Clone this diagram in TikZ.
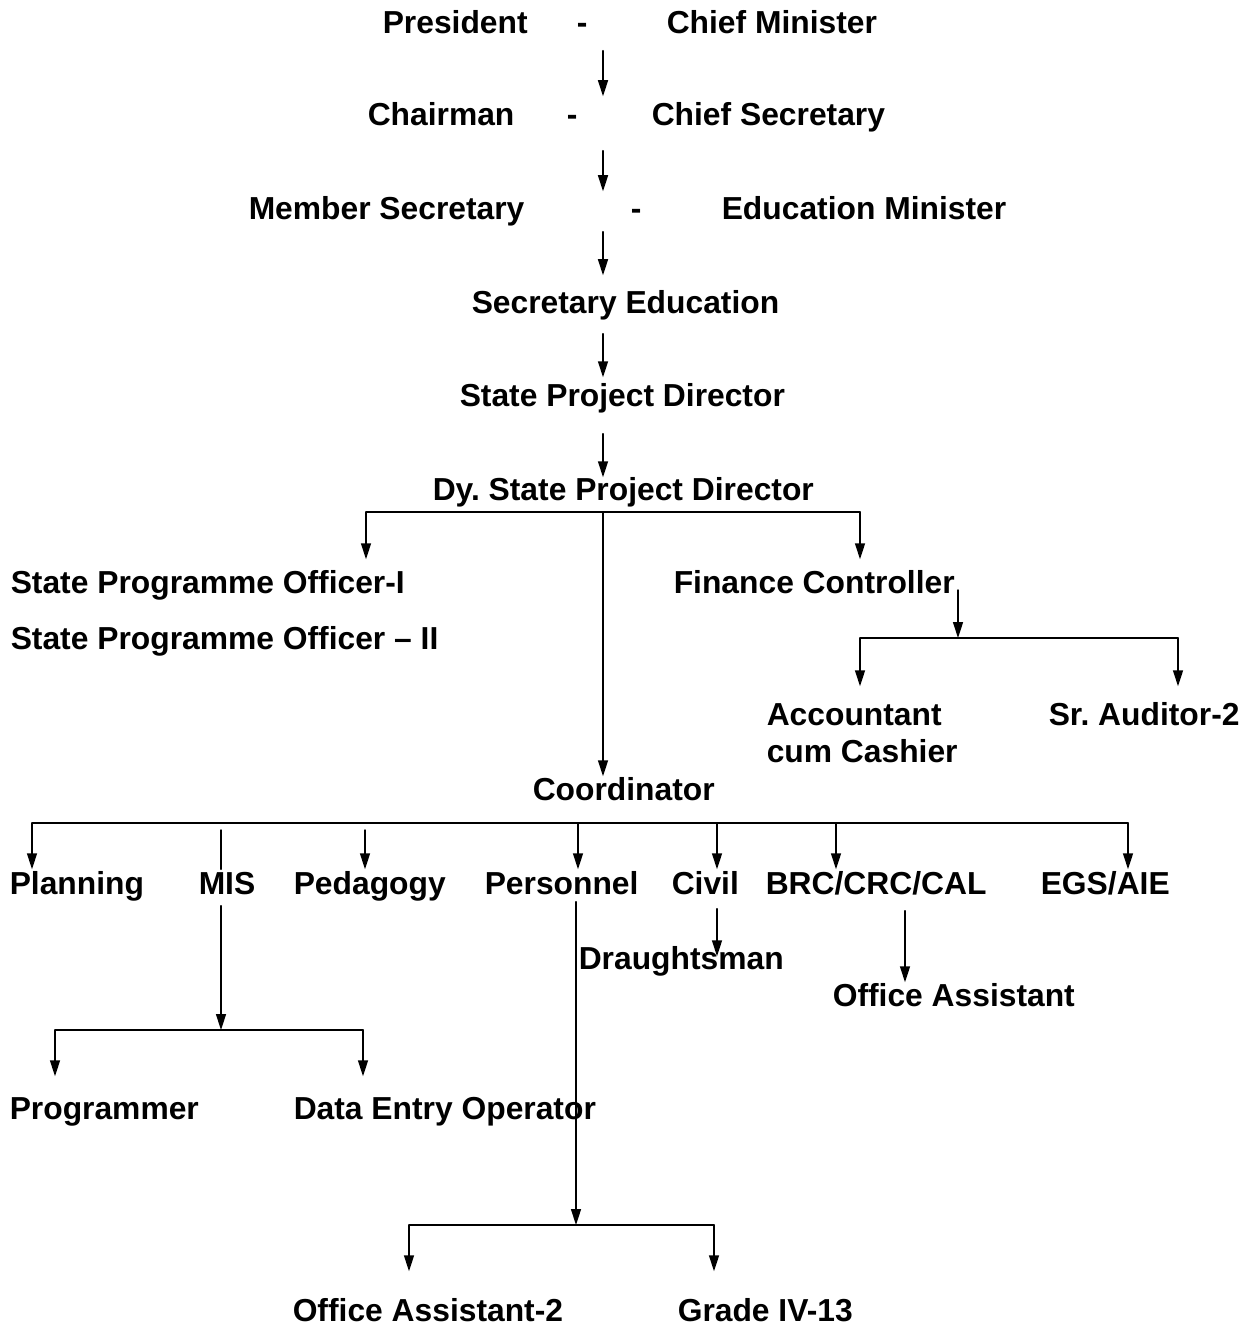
\documentclass[tikz,border=0pt]{standalone}
\usepackage{fontspec}
\setmainfont{Liberation Sans}
\usetikzlibrary{arrows.meta}
\frenchspacing

\begin{document}
\begin{tikzpicture}[x=1pt,y=-1pt,line width=1.5pt,line cap=round,
 >={Triangle[width=10pt,length=16pt]},
 post/.style={anchor=base west,inner sep=0pt,text height=28pt,text depth=7pt,
  font=\fontsize{31.8}{38}\selectfont\bfseries}]
 \useasboundingbox (0,0) rectangle (1252,1329);
 % chain of command
 \node[post] (pres) at (382,34) {President};
 \node[post] (dsh1) at (576,34) {-};
 \node[post] (cmin) at (666,34) {Chief Minister};
 \node[post] (chair) at (367,126) {Chairman};
 \node[post] (dsh2) at (566,126) {-};
 \node[post] (csec) at (651,126) {Chief Secretary};
 \node[post] (msec) at (248,220) {Member Secretary};
 \node[post] (dsh3) at (630,220) {-};
 \node[post] (emin) at (721,220) {Education Minister};
 \node[post] (seced) at (471,313) {Secretary Education};
 \node[post] (spd) at (459,406) {State Project Director};
 \node[post] (dspd) at (432,500) {Dy. State Project Director};
 \coordinate (spine) at (603,0);
 \draw[->,shorten <=9pt,shorten >=1pt] (spine |- pres.south) -- (spine |- chair.north);
 \draw[->,shorten <=17pt] (spine |- chair.south) -- (spine |- msec.north);
 \draw[->,shorten <=4pt,shorten >=9pt] (spine |- msec.south) -- (spine |- seced.north);
 \draw[->,shorten <=13pt] (spine |- seced.south) -- (spine |- spd.north);
 \draw[->,shorten <=20pt,shorten >=-6pt] (spine |- spd.south) -- (spine |- dspd.north);
 % officers under the deputy
 \node[post] (spo1) at (10,593) {State Programme Officer-I};
 \node[post] (spo2) at (10,649) {State Programme Officer -- II};
 \node[post] (fcon) at (673,593) {Finance Controller};
 \node[post] (acc) at (766,725) {Accountant};
 \node[post] (cash) at (766,762) {cum Cashier};
 \node[post] (saud) at (1048,725) {Sr. Auditor-2};
 \node[post] (coord) at (532,800) {Coordinator};
 \coordinate (dL) at (366,512);
 \coordinate (dM) at (603,512);
 \coordinate (dR) at (860,512);
 \draw (dL) -- (dR);
 \draw[->,shorten >=5pt] (dL) -- (dL |- spo1.north);
 \draw[->,shorten >=5pt] (dR) -- (dR |- fcon.north);
 \draw[->,shorten >=-5pt] (dM) -- (dM |- coord.north);
 \coordinate (fJ) at (958,638);
 \coordinate (fL) at (860,638);
 \coordinate (fR) at (1178,638);
 \draw[->] (fJ |- fcon.base) ++(0,-3) -- (fJ);
 \draw (fL) -- (fR);
 \draw[->,shorten >=10pt] (fL) -- (fL |- acc.north);
 \draw[->,shorten >=10pt] (fR) -- (fR |- saud.north);
 % sections under the coordinator
 \node[post] (plan) at (9,894) {Planning};
 \node[post] (mis) at (198,894) {MIS};
 \node[post] (peda) at (293,894) {Pedagogy};
 \node[post] (pers) at (484,894) {Personnel};
 \node[post] (civ) at (671,894) {Civil};
 \node[post] (brc) at (765,894) {BRC/CRC/CAL};
 \node[post] (egs) at (1040,894) {EGS/AIE};
 \draw (32,823) -- (1128,823);
 \foreach \x/\n in {32/plan,578/pers,717/civ,836/brc,1128/egs}{
  \coordinate (k\n) at (\x,823);
  \draw[->,shorten >=-4pt] (k\n) -- (k\n |- \n.north);
 }
 \coordinate (kmis) at (221,830);
 \coordinate (kpeda) at (365,830);
 \draw[shorten >=-4pt] (kmis) -- (kmis |- mis.north);
 \draw[->,shorten >=-4pt] (kpeda) -- (kpeda |- peda.north);
 % lower staff
 \node[post] (drau) at (578,969) {Draughtsman};
 \node[post] (offa) at (832,1006) {Office Assistant};
 \node[post] (prog) at (9,1119) {Programmer};
 \node[post] (deo) at (293,1119) {Data Entry Operator};
 \node[post] (offa2) at (292,1321) {Office Assistant-2};
 \node[post] (grd) at (677,1321) {Grade IV-13};
 \coordinate (cv) at (717,0);
 \draw[->,shorten <=7pt,shorten >=-16pt] (cv |- civ.south) -- (cv |- drau.north);
 \coordinate (bc) at (905,0);
 \draw[->,shorten <=9pt,shorten >=-5pt] (bc |- brc.south) -- (bc |- offa.north);
 \coordinate (mJ) at (221,1030);
 \coordinate (mL) at (55,1030);
 \coordinate (mR) at (363,1030);
 \draw[->,shorten <=4pt] (mJ |- mis.south) -- (mJ);
 \draw (mL) -- (mR);
 \draw[->,shorten >=14pt] (mL) -- (mL |- prog.north);
 \draw[->,shorten >=14pt] (mR) -- (mR |- deo.north);
 \coordinate (pJ) at (576,1225);
 \coordinate (pL) at (409,1225);
 \coordinate (pR) at (714,1225);
 \draw[->] (pJ |- pers.south) -- (pJ);
 \draw (pL) -- (pR);
 \draw[->,shorten >=21pt] (pL) -- (pL |- offa2.north);
 \draw[->,shorten >=21pt] (pR) -- (pR |- grd.north);
\end{tikzpicture}
\end{document}
